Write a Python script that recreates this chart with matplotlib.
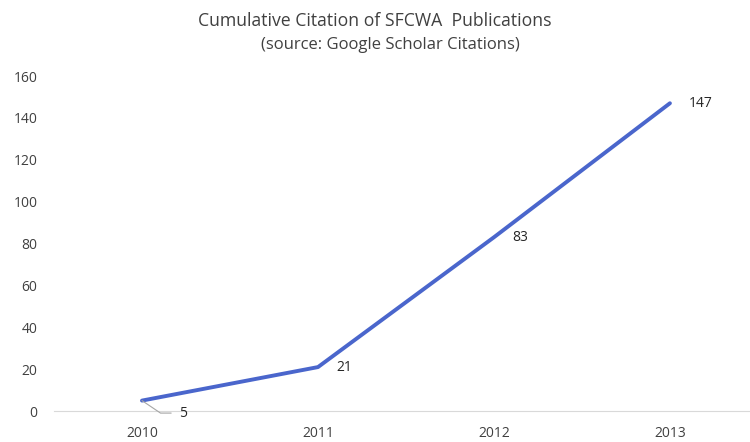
import matplotlib
matplotlib.use("Agg")
import matplotlib.pyplot as plt

years = ["2010", "2011", "2012", "2013"]
citations = [5, 21, 83, 147]

plt.rcParams["font.family"] = ["Open Sans", "DejaVu Sans"]

fig = plt.figure(figsize=(7.5, 4.42), dpi=100)
ax = fig.add_axes([0.072, 0.070, 0.928, 0.758])

x = list(range(len(years)))
ax.plot(x, citations, color="#4a66cc", lw=2.8, solid_capstyle="round", zorder=3)

# data labels (Excel style, right of points)
for i, v in enumerate(citations):
    if i == 0:
        ax.annotate(str(v), xy=(i, v), xytext=(27, -9), textcoords="offset points",
                    ha="left", va="center", fontsize=10, color="#262626",
                    arrowprops=dict(arrowstyle="-", color="#a6a6a6", lw=0.8,
                                    shrinkA=4, shrinkB=0,
                                    connectionstyle="angle,angleA=0,angleB=-34,rad=0"))
    else:
        ax.annotate(str(v), xy=(i, v), xytext=(13.5, 0), textcoords="offset points",
                    ha="left", va="center", fontsize=10, color="#262626")

ax.set_xlim(-0.5, 3.455)
ax.set_ylim(0, 160)
ax.set_xticks(x)
ax.set_xticklabels(years)
ax.set_yticks(range(0, 161, 20))

for s in ["top", "right", "left"]:
    ax.spines[s].set_visible(False)
ax.spines["bottom"].set_color("#d9d9d9")
ax.tick_params(axis="both", length=0, labelsize=10, colors="#404040")
ax.tick_params(axis="x", pad=10.5)
ax.tick_params(axis="y", pad=12)

fig.text(0.5, 0.952, "Cumulative Citation of SFCWA  Publications", ha="center",
         va="center", fontsize=12.7, color="#404040")
fig.text(0.52, 0.898, "(source: Google Scholar Citations)", ha="center",
         va="center", fontsize=12, color="#404040")

fig.savefig("out.png", dpi=100)
